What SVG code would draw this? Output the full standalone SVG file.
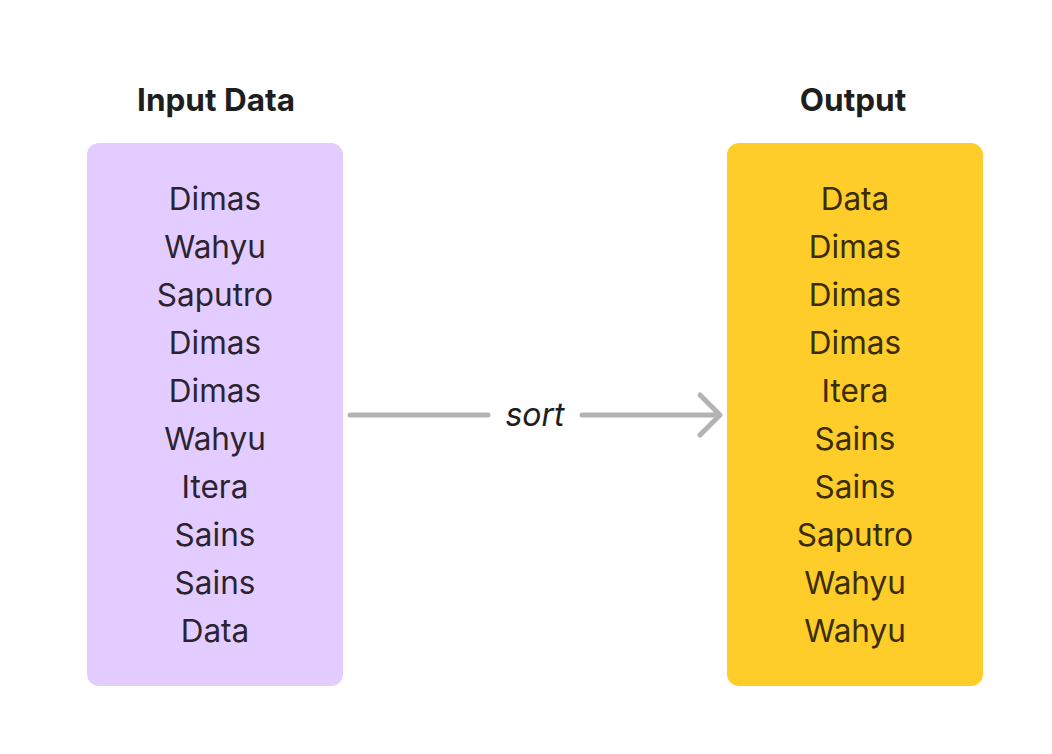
<svg xmlns="http://www.w3.org/2000/svg" width="1052" height="754" viewBox="0 0 1052 754">
<style>
.title{font-family:Inter,"Liberation Sans",sans-serif;font-weight:700;font-size:31.5px;fill:#1e1e1e;text-anchor:middle}
.item{font-family:Inter,"Liberation Sans",sans-serif;font-size:31.5px;text-anchor:middle}
.in{fill:#2b2430}
.out{fill:#3b2c00}
.edge{stroke:#b3b3b3;stroke-width:5;stroke-linecap:round;stroke-linejoin:round;fill:none}
.lbl{font-family:Inter,"Liberation Sans",sans-serif;font-style:italic;font-size:32px;fill:#1e1e1e;text-anchor:middle}
</style>
<rect width="1052" height="754" fill="#ffffff"/>
<g id="input">
<text class="title" x="216" y="111">Input Data</text>
<rect x="87" y="143" width="256" height="543" rx="12" fill="#e3ccff"/>
<g class="item in">
<text x="215" y="210">Dimas</text>
<text x="215" y="258">Wahyu</text>
<text x="215" y="306">Saputro</text>
<text x="215" y="354">Dimas</text>
<text x="215" y="402">Dimas</text>
<text x="215" y="450">Wahyu</text>
<text x="215" y="498">Itera</text>
<text x="215" y="546">Sains</text>
<text x="215" y="594">Sains</text>
<text x="215" y="642">Data</text>
</g>
</g>
<g id="output">
<text class="title" x="853" y="111">Output</text>
<rect x="727" y="143" width="256" height="543" rx="12" fill="#ffcd29"/>
<g class="item out">
<text x="855" y="210">Data</text>
<text x="855" y="258">Dimas</text>
<text x="855" y="306">Dimas</text>
<text x="855" y="354">Dimas</text>
<text x="855" y="402">Itera</text>
<text x="855" y="450">Sains</text>
<text x="855" y="498">Sains</text>
<text x="855" y="546">Saputro</text>
<text x="855" y="594">Wahyu</text>
<text x="855" y="642">Wahyu</text>
</g>
</g>
<g id="connectors">
<path class="edge" d="M350 415 H488"/>
<path class="edge" d="M582 415 H719"/>
<path class="edge" d="M700 395 L720 415 L700 435"/>
<text class="lbl" x="535" y="426">sort</text>
</g>
</svg>
